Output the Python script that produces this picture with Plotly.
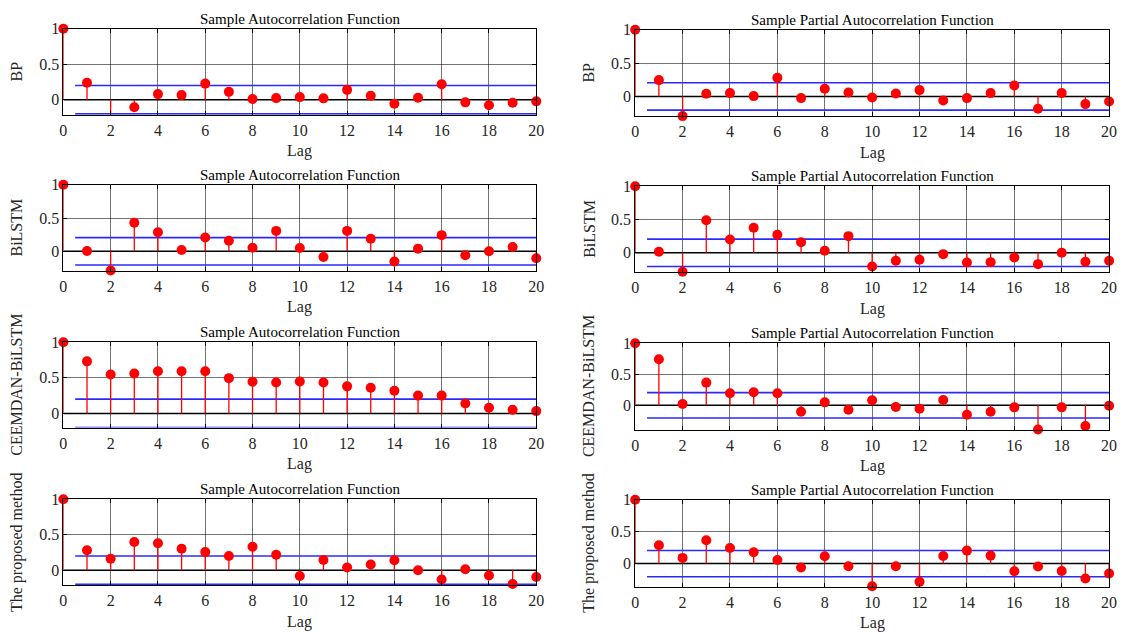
import plotly.graph_objects as go

lags = list(range(21))

acf_bp = [1, 0.24, -0.213, -0.106, 0.079, 0.065, 0.227, 0.111, 0.009, 0.023, 0.037,
          0.019, 0.139, 0.056, -0.056, 0.028, 0.218, -0.037, -0.079, -0.042, -0.023]
pacf_bp = [1, 0.245, -0.295, 0.04, 0.05, 0.005, 0.28, -0.025, 0.115, 0.06, -0.015,
           0.045, 0.095, -0.06, -0.025, 0.05, 0.165, -0.185, 0.05, -0.115, -0.075]
acf_bilstm = [1, 0.005, -0.287, 0.43, 0.287, 0.02, 0.208, 0.158, 0.054, 0.307, 0.05,
              -0.084, 0.307, 0.188, -0.153, 0.04, 0.243, -0.06, 0.0, 0.064, -0.104]
pacf_bilstm = [1, 0.015, -0.285, 0.49, 0.2, 0.375, 0.27, 0.16, 0.03, 0.25, -0.205,
               -0.12, -0.105, -0.02, -0.145, -0.14, -0.07, -0.17, 0.0, -0.135, -0.12]
acf_ceemdan = [1, 0.731, 0.546, 0.56, 0.593, 0.593, 0.593, 0.495, 0.444, 0.435, 0.449,
               0.435, 0.38, 0.361, 0.319, 0.25, 0.25, 0.139, 0.079, 0.051, 0.032]
pacf_ceemdan = [1, 0.742, 0.022, 0.366, 0.194, 0.21, 0.194, -0.102, 0.048, -0.07, 0.081,
                -0.027, -0.054, 0.086, -0.15, -0.102, -0.032, -0.387, -0.032, -0.333, -0.005]
acf_proposed = [1, 0.282, 0.162, 0.398, 0.38, 0.301, 0.255, 0.199, 0.329, 0.218, -0.083,
                0.144, 0.037, 0.079, 0.139, 0.0, -0.13, 0.014, -0.074, -0.194, -0.097]
pacf_proposed = [1, 0.286, 0.089, 0.365, 0.245, 0.177, 0.057, -0.0625, 0.115, -0.042, -0.354,
                 -0.042, -0.286, 0.12, 0.203, 0.125, -0.12, -0.047, -0.115, -0.234, -0.156]

conf_bounds = [0.2, 0.205, 0.205, 0.205, 0.2, 0.204, 0.2, 0.205]
model_names = ["BP", "BiLSTM", "CEEMDAN-BiLSTM", "The proposed method"]
titles = ["Sample Autocorrelation Function", "Sample Partial Autocorrelation Function"]
series = [acf_bp, pacf_bp, acf_bilstm, pacf_bilstm,
          acf_ceemdan, pacf_ceemdan, acf_proposed, pacf_proposed]

# layout (pixels)
W, H = 1126, 632
col_x = [(60, 538), (638, 1117)]
panel_y = [[(21, 108), (22, 109.5)],
           [(179, 266), (180.5, 267.5)],
           [(338.5, 425), (339.5, 427)],
           [(497.5, 584.5), (498, 586)]]
y_min = [-0.21, -0.295, -0.29, -0.29, -0.2, -0.39, -0.21, -0.36]

FONT = "Liberation Serif, Times New Roman, serif"
TXT = "#262626"

fig = go.Figure()
layout = dict(width=W, height=H, margin=dict(l=0, r=0, t=0, b=0),
              paper_bgcolor="white", plot_bgcolor="white", showlegend=False,
              font=dict(family=FONT, size=16, color=TXT))
annotations = []

for i, vals in enumerate(series):
    r, c = divmod(i, 2)
    n = i + 1
    xa = "x" if n == 1 else f"x{n}"
    ya = "y" if n == 1 else f"y{n}"
    x0, x1 = col_x[c]
    top, bot = panel_y[r][c]
    b = conf_bounds[i]

    # zero line
    fig.add_trace(go.Scatter(x=[0, 20], y=[0, 0], mode="lines",
                             line=dict(color="black", width=1.5),
                             xaxis=xa, yaxis=ya, hoverinfo="skip"))
    # confidence bounds
    for bv in (b, -b):
        fig.add_trace(go.Scatter(x=[0.5, 20], y=[bv, bv], mode="lines",
                                 line=dict(color="#2a2aff", width=1.6),
                                 xaxis=xa, yaxis=ya, hoverinfo="skip", cliponaxis=False))
    # stems
    sx, sy = [], []
    for k, v in zip(lags, vals):
        sx += [k, k, None]
        sy += [0, v, None]
    fig.add_trace(go.Scatter(x=sx, y=sy, mode="lines",
                             line=dict(color="#ff0000", width=1.3),
                             xaxis=xa, yaxis=ya, hoverinfo="skip"))
    # markers
    fig.add_trace(go.Scatter(x=lags, y=vals, mode="markers",
                             marker=dict(color="#ff0000", size=10, line=dict(width=0)),
                             xaxis=xa, yaxis=ya, cliponaxis=False))

    axcommon = dict(showline=True, linecolor="black", linewidth=1, mirror="allticks",
                    ticks="inside", ticklen=4, tickcolor="black",
                    showgrid=True, gridcolor="rgba(0,0,0,0.55)", gridwidth=1,
                    zeroline=False, tickfont=dict(family=FONT, size=16, color=TXT))
    layout["xaxis" if n == 1 else f"xaxis{n}"] = dict(
        axcommon, domain=[x0 / W, x1 / W], range=[0, 20],
        tickvals=list(range(0, 21, 2)), anchor=ya, ticklabelstandoff=1)
    layout["yaxis" if n == 1 else f"yaxis{n}"] = dict(
        axcommon, domain=[1 - bot / H, 1 - top / H], range=[y_min[i], 1],
        tickvals=[0, 0.5, 1], ticktext=["0", "0.5", "1"], anchor=xa)

    cx = (x0 + x1) / 2 / W
    annotations.append(dict(text=titles[c], x=cx, y=1 - (top - 10) / H,
                            xref="paper", yref="paper", showarrow=False,
                            xanchor="center", yanchor="middle",
                            font=dict(family=FONT, size=15, color="black")))
    annotations.append(dict(text="Lag", x=cx, y=1 - (bot + 37) / H,
                            xref="paper", yref="paper", showarrow=False,
                            xanchor="center", yanchor="middle",
                            font=dict(family=FONT, size=16, color=TXT)))
    lx = 13 if c == 0 else 591
    annotations.append(dict(text=model_names[r], x=lx / W, y=1 - (top + bot) / 2 / H,
                            xref="paper", yref="paper", showarrow=False, textangle=-90,
                            xanchor="center", yanchor="middle",
                            font=dict(family=FONT, size=16, color=TXT)))

layout["annotations"] = annotations
fig.update_layout(**layout)
fig.write_html("out.html", config={"displayModeBar": False},
               post_script="document.body.style.margin='0';document.body.style.overflow='hidden';")
